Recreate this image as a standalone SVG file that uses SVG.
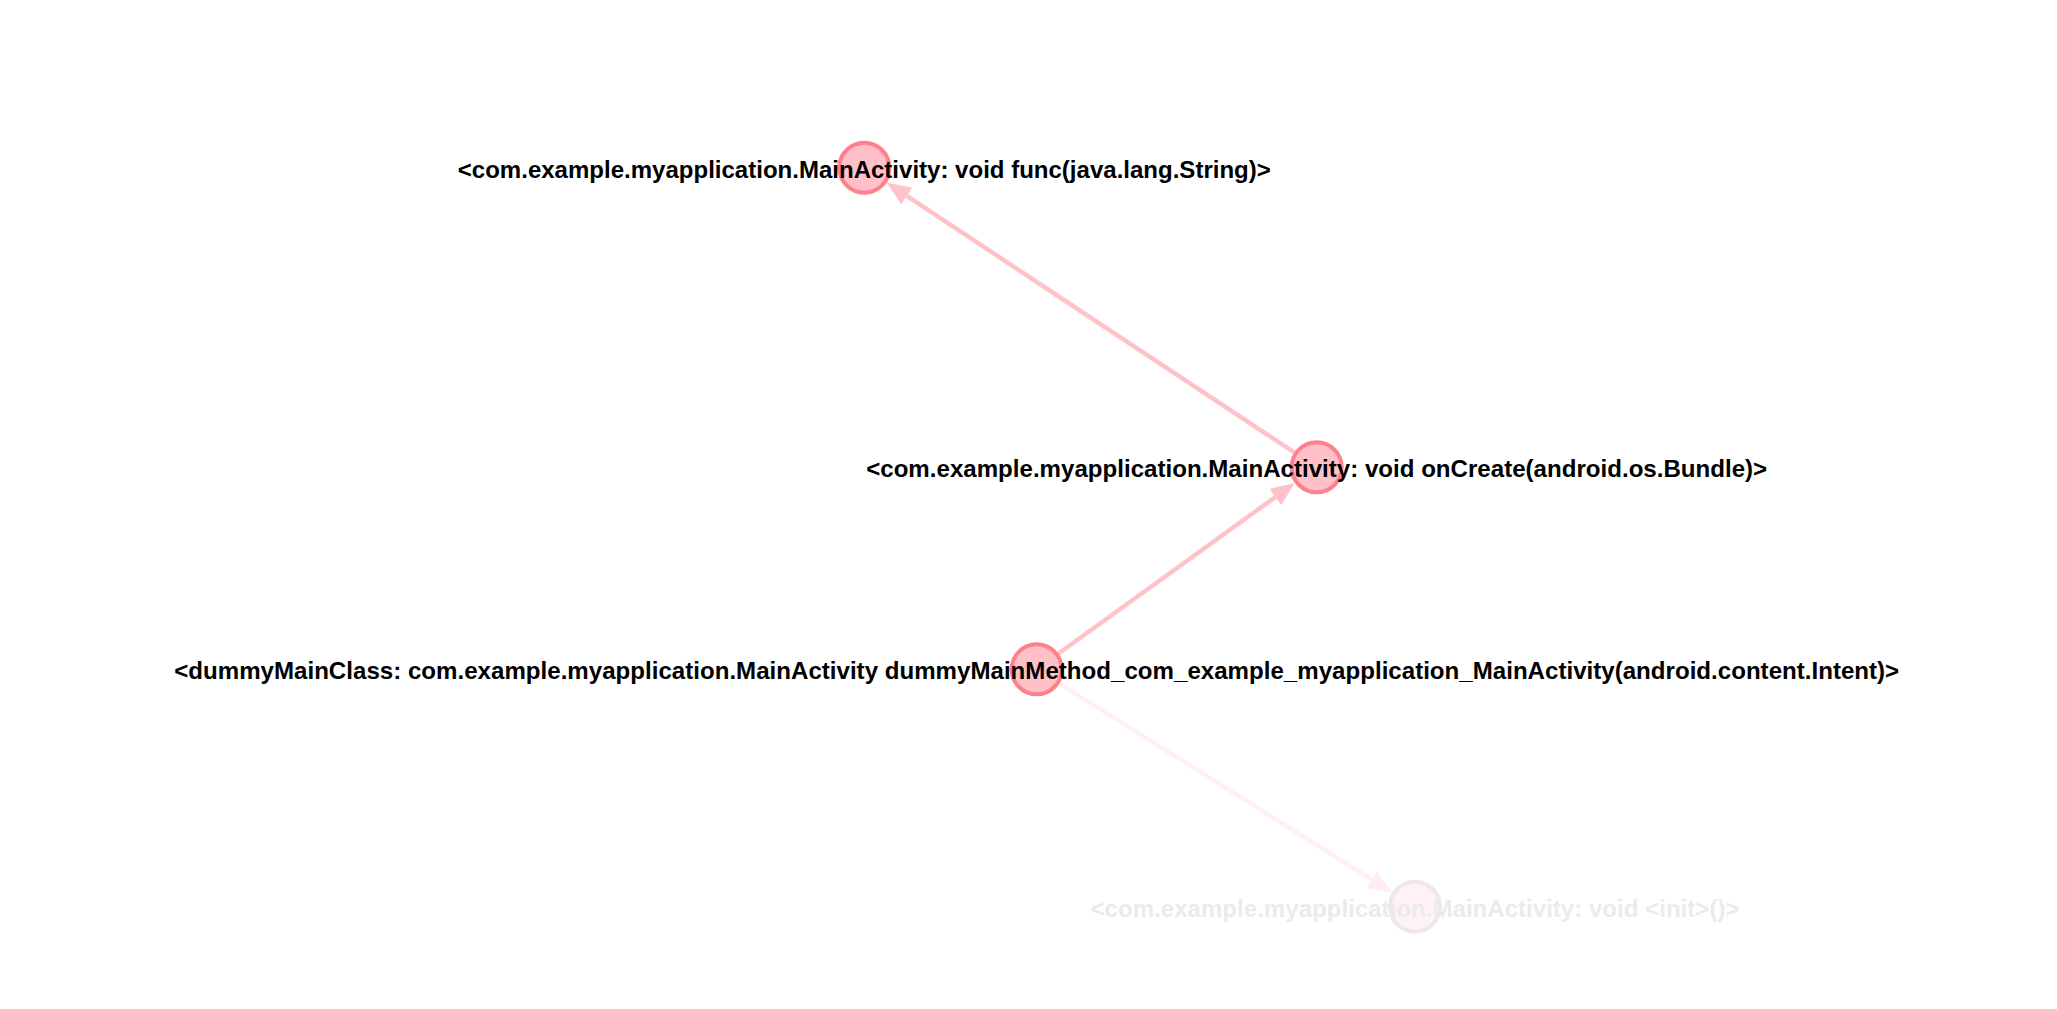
<svg xmlns="http://www.w3.org/2000/svg" width="2057" height="1009" viewBox="0 0 2057 1009">
<defs>
<style>
.node circle{fill:#ffc0c8;stroke:#ff808c;stroke-width:4}
.node text{font-family:"Liberation Sans",Arial,sans-serif;font-weight:bold;font-size:24.5px;fill:#000;text-anchor:middle}
.edge{stroke:#ffc2c9;stroke-width:4.5;fill:none}
.faded circle{fill:#fff2f4;stroke:#efe8e9}
.faded text{fill:#ebebeb}
.edge.faint{stroke:#fff0f2}
</style>
<marker id="arr" viewBox="0 0 24 20" refX="0" refY="10" markerWidth="24" markerHeight="20" markerUnits="userSpaceOnUse" orient="auto">
<path d="M0,0 L24,10 L0,20 Z" fill="#ffc2c9"/>
</marker>
<marker id="arrFaint" viewBox="0 0 24 20" refX="0" refY="10" markerWidth="24" markerHeight="20" markerUnits="userSpaceOnUse" orient="auto">
<path d="M0,0 L24,10 L0,20 Z" fill="#ffeef0"/>
</marker>
</defs>
<rect width="2057" height="1009" fill="#fff"/>
<g id="connectors">
<path class="edge" d="M1316.7,467.3 L906.8,195.9" marker-end="url(#arr)"/>
<path class="edge" d="M1036.7,669.3 L1275.3,497.1" marker-end="url(#arr)"/>
<path class="edge faint" d="M1036.7,669.3 L1371.8,879.5" marker-end="url(#arrFaint)"/>
</g>
<g id="node-init" class="node faded">
<circle cx="1415" cy="906.7" r="25"/>
<text x="1415" y="917" textLength="649" lengthAdjust="spacingAndGlyphs">&lt;com.example.myapplication.MainActivity: void &lt;init&gt;()&gt;</text>
</g>
<g id="node-func" class="node">
<circle cx="864.3" cy="167.7" r="25"/>
<text x="864.3" y="177.5" textLength="813" lengthAdjust="spacingAndGlyphs">&lt;com.example.myapplication.MainActivity: void func(java.lang.String)&gt;</text>
</g>
<g id="node-onCreate" class="node">
<circle cx="1316.7" cy="467.3" r="25"/>
<text x="1316.7" y="477" textLength="901" lengthAdjust="spacingAndGlyphs">&lt;com.example.myapplication.MainActivity: void onCreate(android.os.Bundle)&gt;</text>
</g>
<g id="node-dummyMain" class="node">
<circle cx="1036.7" cy="669.3" r="25"/>
<text x="1036.7" y="679" textLength="1725" lengthAdjust="spacingAndGlyphs">&lt;dummyMainClass: com.example.myapplication.MainActivity dummyMainMethod_com_example_myapplication_MainActivity(android.content.Intent)&gt;</text>
</g>
</svg>
